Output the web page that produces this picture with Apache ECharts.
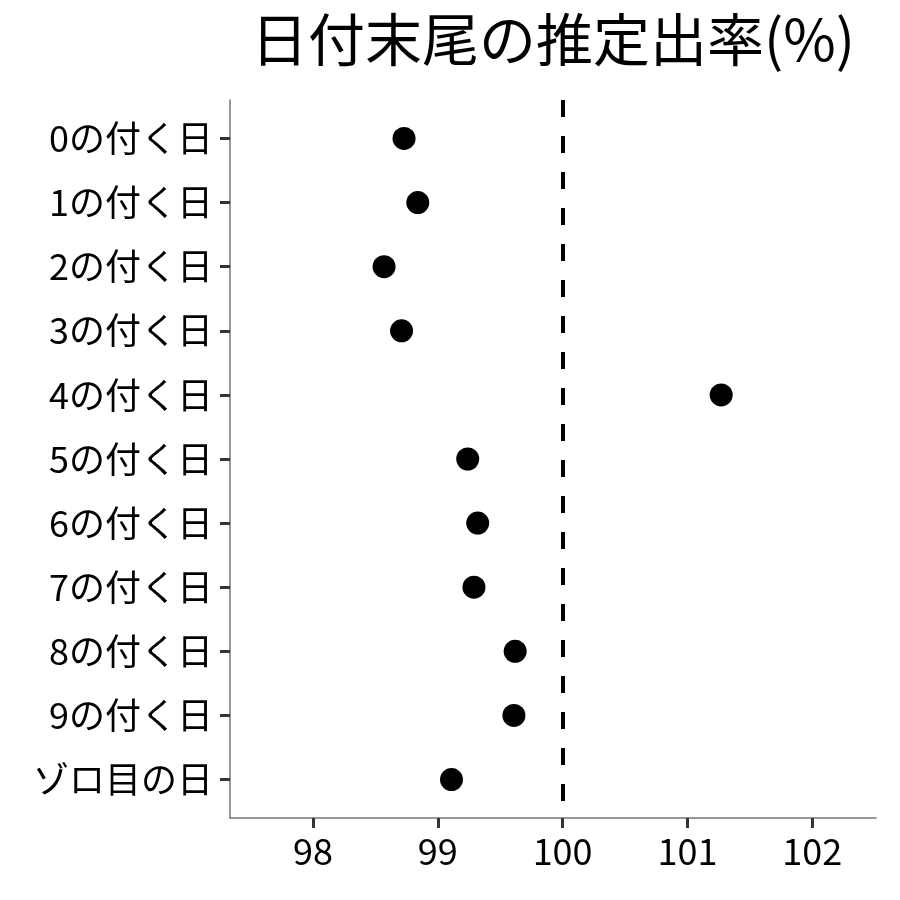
<!DOCTYPE html>
<html>
<head>
<meta charset="utf-8">
<script src="https://cdn.jsdelivr.net/npm/echarts@6/dist/echarts.min.js"></script>
<style>
  html, body { margin: 0; padding: 0; background: #fff; }
  #chart { width: 900px; height: 900px; }
</style>
</head>
<body>
<div id="chart"></div>
<script>
// data
const categories = ['0の付く日', '1の付く日', '2の付く日', '3の付く日', '4の付く日',
  '5の付く日', '6の付く日', '7の付く日', '8の付く日', '9の付く日', 'ゾロ目の日'];
const rates = [98.73, 98.84, 98.57, 98.71, 101.27, 99.24, 99.32, 99.29, 99.62, 99.61, 99.11];
const xTicks = [98, 99, 100, 101, 102];
const refLine = 100;

const FONT = '"Noto Sans CJK JP", "Noto Sans", sans-serif';

const chart = echarts.init(document.getElementById('chart'));

const points = rates.map((v, i) => [v, i]);
const yTicks = categories.map((c, i) => i);

chart.setOption({
  animation: false,
  backgroundColor: '#fff',
  title: {
    text: '日付末尾の推定出率(%)',
    left: 548,
    textAlign: 'center',
    top: 6,
    textStyle: { fontFamily: FONT, fontSize: 57, fontWeight: 'normal', color: '#000' }
  },
  grid: { left: 230, right: 24, top: 100, bottom: 82, containLabel: false },
  xAxis: {
    type: 'value',
    min: 97.336,
    max: 102.51,
    splitLine: { show: false },
    axisLine: { show: true, onZero: false, lineStyle: { color: '#777', width: 1.5 } },
    axisTick: { show: true, customValues: xTicks, length: 10, lineStyle: { color: '#333', width: 3 } },
    axisLabel: {
      customValues: xTicks,
      margin: 15,
      fontFamily: FONT, fontSize: 36, color: '#000'
    }
  },
  yAxis: {
    type: 'value',
    min: -0.6,
    max: 10.6,
    inverse: true,
    splitLine: { show: false },
    axisLine: { show: true, onZero: false, lineStyle: { color: '#777', width: 1.5 } },
    axisTick: { show: true, customValues: yTicks, length: 10, lineStyle: { color: '#333', width: 3 } },
    axisLabel: {
      customValues: yTicks,
      margin: 17,
      fontFamily: FONT, fontSize: 36, color: '#000',
      formatter: function (v) { return categories[Math.round(v)]; }
    }
  },
  series: [{
    type: 'scatter',
    data: points,
    symbolSize: 23,
    itemStyle: { color: '#000', opacity: 1 },
    markLine: {
      silent: true,
      symbol: 'none',
      label: { show: false },
      lineStyle: { color: '#000', width: 4, type: [17, 19] },
      data: [{ xAxis: refLine }]
    }
  }]
});
</script>
</body>
</html>
